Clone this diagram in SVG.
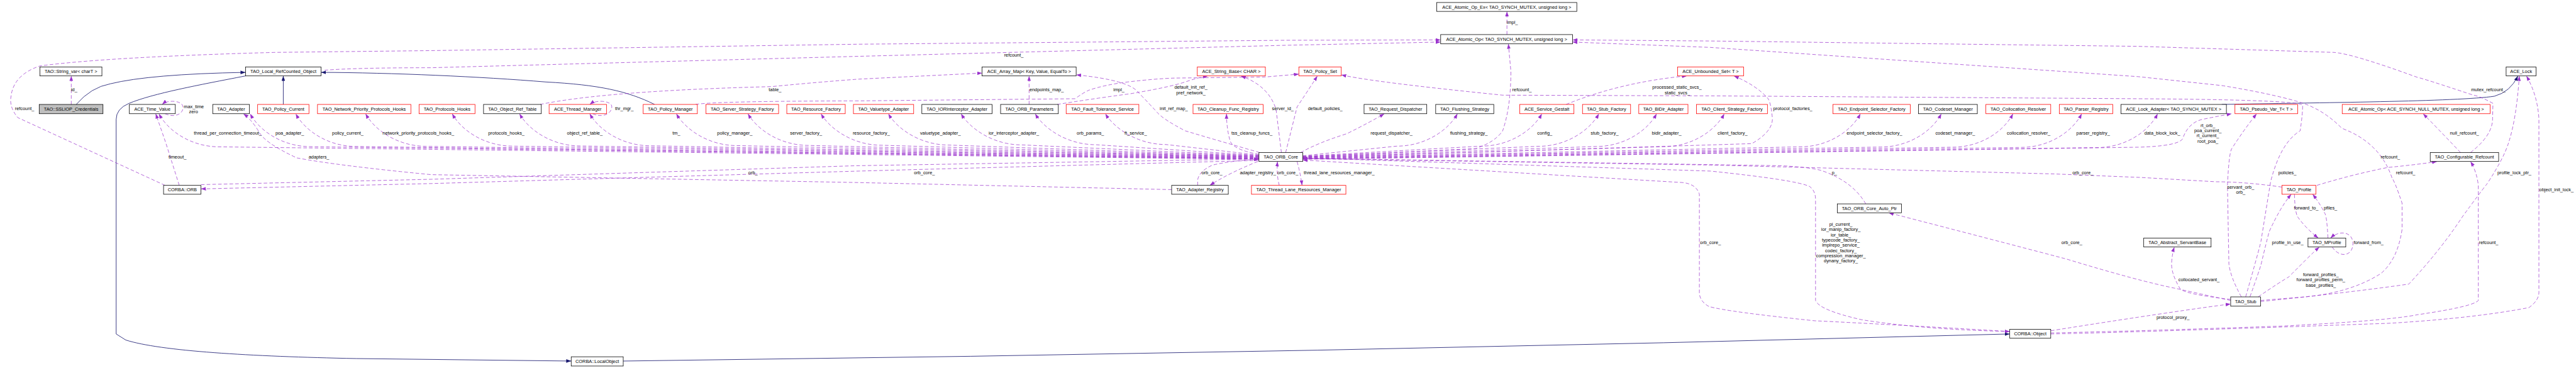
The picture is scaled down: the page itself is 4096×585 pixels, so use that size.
<svg xmlns="http://www.w3.org/2000/svg" width="4096" height="585" viewBox="0 0 4096 585">
<style>
.b{fill:#fff;stroke:#000;stroke-width:1.4}
.r{fill:#fff;stroke:#ff0000;stroke-width:1.4}
.g{fill:#bfbfbf;stroke:#000;stroke-width:1.4}
.t{font-family:"Liberation Sans",Arial,sans-serif;font-size:13px;text-anchor:middle;fill:#000}
.u{fill:none;stroke:#9a32cd;stroke-width:1.3;stroke-dasharray:10,6;marker-end:url(#ah)}
.i{fill:none;stroke:#191970;stroke-width:1.5;marker-end:url(#an)}
</style>
<defs>
<marker id="ah" viewBox="0 0 14 10" refX="14" refY="5" markerWidth="14" markerHeight="10" markerUnits="userSpaceOnUse" orient="auto"><path d="M0,0L14,5L0,10z" fill="#9a32cd"/></marker>
<marker id="an" viewBox="0 0 14 10" refX="14" refY="5" markerWidth="14" markerHeight="10" markerUnits="userSpaceOnUse" orient="auto"><path d="M0,0L14,5L0,10z" fill="#191970"/></marker>
</defs>
<rect width="4096" height="585" fill="#fff"/>
<g transform="scale(0.5666)">
<g id="connectors">
<path class="i" d="M214,293 Q255,245 310,235 Q420,208 689,203"/>
<path class="i" d="M689,213 C560,238 430,262 362,290 Q326,305 326,335 L326,937 L353,954 C450,985 700,1000 1000,1006 L1603,1013"/>
<path class="i" d="M795,293 L795,213"/>
<path class="i" d="M1837,293 C1760,255 1680,238 1532,230 C1350,215 1100,204 901,203"/>
<path class="i" d="M1749,1013 Q3700,990 5640,937"/>
<path class="i" d="M6235,293 C6500,288 6900,285 7000,270 Q7045,258 7066,213"/>
<path class="u" d="M200,293 L200,213"/>
<path class="u" d="M463,520 L50,330 Q25,300 31,270 Q38,210 112,185 Q300,160 772,147 L1210,142 L2410,124 L3610,113 L4043,112"/>
<path class="u" d="M911,197 Q1000,190 1210,190 L2410,158 L3610,127 L4043,118"/>
<path class="u" d="M463,319 C500,335 520,310 512,295 C505,282 470,280 455,293"/>
<path class="u" d="M503,520 L465,400 L437,319"/>
<path class="u" d="M3288,532 L2400,512 L1210,490 Q950,465 833,443 Q740,400 725,367 Q705,335 683,319"/>
<path class="u" d="M3533,450 L2410,480 L1210,515 L564,530"/>
<path class="u" d="M564,518 L1210,503 L2400,465 L3533,446"/>
<path class="u" d="M3533,447 L616,412 C536,412 471,367 446,319"/>
<path class="u" d="M3533,446 L872,411.5 C792,411.5 727,366 702,319"/>
<path class="u" d="M3533,445 L1000,411 C920,411 855,366 830,319"/>
<path class="u" d="M3533,444.5 L1196,410.5 C1116,410.5 1051,365 1026,319"/>
<path class="u" d="M3533,443.5 L1439,410 C1359,410 1294,365 1269,319"/>
<path class="u" d="M3533,442.5 L1628,409.5 C1548,409.5 1483,364 1458,319"/>
<path class="u" d="M3533,441.5 L1825,409 C1745,409 1680,364 1655,319"/>
<path class="u" d="M3533,440.5 L2068,408.5 C1988,408.5 1923,363 1898,319"/>
<path class="u" d="M3533,440 L2269,408 C2189,408 2124,363 2099,319"/>
<path class="u" d="M3533,439 L2474,407.5 C2394,407.5 2329,362 2304,319"/>
<path class="u" d="M3533,438 L2663,407 C2583,407 2518,362 2493,319"/>
<path class="u" d="M3533,437 L2867,406.5 C2787,406.5 2722,361 2697,319"/>
<path class="u" d="M3533,436 L3075,406 C2995,406 2930,361 2905,319"/>
<path class="u" d="M3533,435 L3272,405.5 C3192,405.5 3127,360 3102,319"/>
<path class="u" d="M3533,433 Q3460,420 3452,395 Q3442,360 3442,319"/>
<path class="u" d="M1663,319 C1700,335 1722,310 1716,295 C1708,282 1672,280 1655,293"/>
<path class="u" d="M1516,293 Q1700,255 2165,243 Q2300,230 2410,222 L2756,205"/>
<path class="u" d="M1952,293 Q2000,284 2410,283 L3017,277 Q3040,260 3056,253 Q3100,238 3164,230 Q3250,220 3300,219 L3550,216 L3645,208"/>
<path class="u" d="M2888,293 L2888,213"/>
<path class="u" d="M2967,293 Q3060,278 3172,263 Q3280,245 3326,230 Q3360,218 3390,213"/>
<path class="u" d="M3535,428 Q3420,395 3326,367 Q3265,335 3249,317 Q3215,280 3195,260 Q3170,225 3020,210"/>
<path class="u" d="M3596,428 L3581,307 Q3560,240 3482,213"/>
<path class="u" d="M3608,428 L3640,300 Q3680,240 3697,213"/>
<path class="u" d="M3650,428 Q3700,400 3780,375 Q3850,340 3885,319"/>
<path class="u" d="M3656,440 L4140,417 Q4194,400 4217,367 Q4240,300 4240,200 L4233,123"/>
<path class="u" d="M4229,97 L4229,32"/>
<path class="u" d="M3656,437 L3920,410 C4000,410 4065,365 4090,319"/>
<path class="u" d="M3656,438 L4157,410 C4237,410 4302,365 4327,319"/>
<path class="u" d="M3656,439 L4317,410.5 C4397,410.5 4462,365 4487,319"/>
<path class="u" d="M3656,440 L4479,411 C4559,411 4624,366 4649,319"/>
<path class="u" d="M3656,441 L4669,411.5 C4749,411.5 4814,366 4839,319"/>
<path class="u" d="M3656,442 L5051,412 C5131,412 5196,367 5221,319"/>
<path class="u" d="M3656,443 L5278,412.5 C5358,412.5 5423,367 5448,319"/>
<path class="u" d="M3656,444 L5479,413 C5559,413 5624,368 5649,319"/>
<path class="u" d="M3656,445 L5672,413.5 C5752,413.5 5817,368 5842,319"/>
<path class="u" d="M3656,446 L5885,414 C5965,414 6030,369 6055,319"/>
<path class="u" d="M4395,293 Q4550,230 4734,213"/>
<path class="u" d="M3656,442 L4916,403 Q4974,370 4974,333 Q4970,290 4962,277 Q4930,240 4866,213"/>
<path class="u" d="M3656,447 L6000,413 Q6110,410 6125,390 Q6140,345 6180,335 Q6230,325 6263,319"/>
<path class="u" d="M6290,833 Q6259,777 6255,740 L6251,520 Q6255,430 6263,417 Q6300,360 6333,319"/>
<path class="u" d="M6302,833 Q6340,700 6345,677 L6372,510 Q6400,400 6455,367 Q6462,320 6462,295 Q6450,280 6000,277 L4810,269 L4217,267 Q3850,230 3764,210"/>
<path class="u" d="M5236,572 Q5200,510 5116,480 Q5090,470 5000,465 L3656,444"/>
<path class="u" d="M6404,525 Q6300,510 6219,510 L6010,498 L5765,488 L4800,463 L3656,445"/>
<path class="u" d="M5640,930 Q5300,910 5093,900 Q4850,875 4796,860 Q4769,845 4769,820 L4769,545 Q4760,515 4719,512 L3656,449"/>
<path class="u" d="M3656,443 L4800,480 Q5040,505 5078,523 Q5095,535 5095,560 L5095,843 Q5105,870 5224,897 Q5400,925 5640,930"/>
<path class="u" d="M3530,453 Q3450,485 3395,520"/>
<path class="u" d="M3361,520 L3361,505 Q3365,480 3403,463 Q3460,450 3533,447"/>
<path class="u" d="M3640,453 Q3650,490 3654,520"/>
<path class="u" d="M3590,520 Q3582,490 3585,453"/>
<path class="u" d="M6260,843 Q6235,838 6110,810 Q6000,788 5800,727 Q5572,667 5300,597"/>
<path class="u" d="M5755,928 Q5900,905 6000,890 Q6200,860 6260,853"/>
<path class="u" d="M6260,840 Q6130,825 6118,810 Q6094,770 6094,740 Q6096,710 6102,693"/>
<path class="u" d="M6314,833 Q6340,760 6345,743 Q6360,680 6368,650 Q6400,580 6430,545"/>
<path class="u" d="M6337,833 Q6400,790 6423,777 Q6460,740 6470,730 Q6495,705 6509,693"/>
<path class="u" d="M6344,843 Q6440,835 6470,833 Q6600,820 6682,767 Q6729,727 6741,643 L6741,570 Q6721,510 6713,500 Q6680,400 6572,360 Q6520,307 6455,287 Q6376,263 6235,240 L6000,215 L4800,133 L4413,118"/>
<path class="u" d="M6344,846 Q6600,820 6760,797 Q6850,700 6909,610 Q6960,540 6980,515 Q7027,443 7040,400 Q7062,333 7070,213"/>
<path class="u" d="M5755,934 Q6000,929 6400,915 Q6700,900 6784,883 Q6941,860 6955,843 L6955,520 Q6950,480 6933,453"/>
<path class="u" d="M5755,937 Q6000,932 6705,907 Q6941,893 7097,863 Q7125,843 7125,820 L7125,333 Q7121,267 7090,213"/>
<path class="u" d="M6439,545 Q6440,590 6447,607 Q6470,640 6506,668"/>
<path class="u" d="M6533,668 Q6530,610 6525,600 Q6510,570 6490,545"/>
<path class="u" d="M6545,693 C6565,725 6605,720 6603,680 C6600,650 6565,645 6540,668"/>
<path class="u" d="M6502,520 Q6600,490 6700,470 Q6800,460 6839,453"/>
<path class="u" d="M6933,428 Q6995,380 6995,333 L6996,290 Q6960,270 6941,267 Q6800,220 6784,217 Q6600,150 6549,147 L6000,130 L4800,115 L4413,112"/>
<path class="u" d="M6905,428 Q6860,380 6800,319"/>
<g class="t">
<text x="208" y="256">id_</text>
<text x="69" y="309">refcount_</text>
<text x="544" y="303">max_time</text>
<text x="543" y="317">zero</text>
<text x="498" y="444">timeout_</text>
<text x="639" y="377">thread_per_connection_timeout_</text>
<text x="813" y="377">poa_adapter_</text>
<text x="895" y="444">adapters_</text>
<text x="976" y="377">policy_current_</text>
<text x="1174" y="377">network_priority_protocols_hooks_</text>
<text x="1421" y="377">protocols_hooks_</text>
<text x="1641" y="377">object_ref_table_</text>
<text x="1752" y="309">thr_mgr_</text>
<text x="1898" y="377">tm_</text>
<text x="2062" y="377">policy_manager_</text>
<text x="2262" y="377">server_factory_</text>
<text x="2175" y="256">table_</text>
<text x="2113" y="489">orb_</text>
<text x="2445" y="377">resource_factory_</text>
<text x="2639" y="377">valuetype_adapter_</text>
<text x="2845" y="377">ior_interceptor_adapter_</text>
<text x="3060" y="377">orb_params_</text>
<text x="3187" y="377">ft_service_</text>
<text x="3513" y="377">tss_cleanup_funcs_</text>
<text x="2845" y="158">refcount_</text>
<text x="2937" y="256">endpoints_map_</text>
<text x="3140" y="256">impl_</text>
<text x="3342" y="249">default_init_ref_</text>
<text x="3342" y="264">pref_network_</text>
<text x="3294" y="309">init_ref_map_</text>
<text x="3600" y="309">server_id_</text>
<text x="2594" y="489">orb_core_</text>
<text x="3401" y="489">orb_core_</text>
<text x="3530" y="489">adapter_registry_</text>
<text x="3614" y="489">orb_core_</text>
<text x="3758" y="489">thread_lane_resources_manager_</text>
<text x="4244" y="67">impl_</text>
<text x="3719" y="309">default_policies_</text>
<text x="4271" y="256">refcount_</text>
<text x="4706" y="249">processed_static_svcs_</text>
<text x="4707" y="264">static_svcs_</text>
<text x="3905" y="377">request_dispatcher_</text>
<text x="4122" y="377">flushing_strategy_</text>
<text x="4335" y="377">config_</text>
<text x="4503" y="377">stub_factory_</text>
<text x="4677" y="377">bidir_adapter_</text>
<text x="4862" y="377">client_factory_</text>
<text x="5031" y="309">protocol_factories_</text>
<text x="5260" y="377">endpoint_selector_factory_</text>
<text x="5487" y="377">codeset_manager_</text>
<text x="5693" y="377">collocation_resolver_</text>
<text x="5874" y="377">parser_registry_</text>
<text x="5148" y="489">p_</text>
<text x="5845" y="489">orb_core_</text>
<text x="6983" y="256">mutex_refcount_</text>
<text x="6068" y="377">data_block_lock_</text>
<text x="6196" y="356">rt_orb_</text>
<text x="6196" y="371">poa_current_</text>
<text x="6196" y="385">rt_current_</text>
<text x="6196" y="400">root_poa_</text>
<text x="6916" y="377">null_refcount_</text>
<text x="6708" y="444">refcount_</text>
<text x="6419" y="489">policies_</text>
<text x="6751" y="489">refcount_</text>
<text x="7056" y="489">profile_lock_ptr_</text>
<text x="4800" y="684">orb_core_</text>
<text x="5166" y="633">pi_current_</text>
<text x="5166" y="648">ior_manip_factory_</text>
<text x="5166" y="663">ior_table_</text>
<text x="5166" y="677">typecode_factory_</text>
<text x="5166" y="692">implrepo_service_</text>
<text x="5166" y="707">codec_factory_</text>
<text x="5166" y="721">compression_manager_</text>
<text x="5166" y="736">dynany_factory_</text>
<text x="5814" y="684">orb_core_</text>
<text x="6288" y="529">servant_orb_</text>
<text x="6288" y="544">orb_</text>
<text x="6472" y="587">forward_to_</text>
<text x="6540" y="587">pfiles_</text>
<text x="6420" y="684">profile_in_use_</text>
<text x="6647" y="684">forward_from_</text>
<text x="6984" y="684">refcount_</text>
<text x="7174" y="536">object_init_lock_</text>
<text x="6171" y="789">collocated_servant_</text>
<text x="6513" y="775">forward_profiles_</text>
<text x="6513" y="789">forward_profiles_perm_</text>
<text x="6513" y="804">base_profiles_</text>
<text x="6098" y="895">protocol_proxy_</text>
</g>
</g>
<g id="n_atomic_op_ex"><rect class="b" x="4032" y="7" width="393" height="25"/><text class="t" x="4228.5" y="24">ACE_Atomic_Op_Ex&lt; TAO_SYNCH_MUTEX, unsigned long &gt;</text></g>
<g id="n_atomic_op"><rect class="b" x="4043" y="97" width="370" height="26"/><text class="t" x="4228" y="114.5">ACE_Atomic_Op&lt; TAO_SYNCH_MUTEX, unsigned long &gt;</text></g>
<g id="n_string_var"><rect class="b" x="112" y="188" width="174" height="25"/><text class="t" x="199" y="205">TAO::String_var&lt; charT &gt;</text></g>
<g id="n_local_refcounted"><rect class="b" x="689" y="188" width="212" height="25"/><text class="t" x="795" y="205">TAO_Local_RefCounted_Object</text></g>
<g id="n_array_map"><rect class="b" x="2756" y="188" width="264" height="25"/><text class="t" x="2888" y="205">ACE_Array_Map&lt; Key, Value, EqualTo &gt;</text></g>
<g id="n_string_base"><rect class="r" x="3360" y="188" width="191" height="25"/><text class="t" x="3455.5" y="205">ACE_String_Base&lt; CHAR &gt;</text></g>
<g id="n_policy_set"><rect class="r" x="3645" y="188" width="119" height="25"/><text class="t" x="3704.5" y="205">TAO_Policy_Set</text></g>
<g id="n_unbounded_set"><rect class="r" x="4708" y="188" width="185" height="25"/><text class="t" x="4800.5" y="205">ACE_Unbounded_Set&lt; T &gt;</text></g>
<g id="n_ace_lock"><rect class="b" x="7033" y="188" width="84" height="25"/><text class="t" x="7075" y="205">ACE_Lock</text></g>
<g id="n_ssliop"><rect class="g" x="110" y="293" width="179" height="26"/><text class="t" x="199.5" y="310.5">TAO::SSLIOP_Credentials</text></g>
<g id="n_time_value"><rect class="b" x="363" y="293" width="129" height="26"/><text class="t" x="427.5" y="310.5">ACE_Time_Value</text></g>
<g id="n_adapter"><rect class="b" x="597" y="293" width="103" height="26"/><text class="t" x="648.5" y="310.5">TAO_Adapter</text></g>
<g id="n_policy_current"><rect class="r" x="723" y="293" width="144" height="26"/><text class="t" x="795" y="310.5">TAO_Policy_Current</text></g>
<g id="n_netprio"><rect class="r" x="891" y="293" width="262" height="26"/><text class="t" x="1022" y="310.5">TAO_Network_Priority_Protocols_Hooks</text></g>
<g id="n_proto_hooks"><rect class="r" x="1176" y="293" width="157" height="26"/><text class="t" x="1254.5" y="310.5">TAO_Protocols_Hooks</text></g>
<g id="n_obj_ref_table"><rect class="b" x="1357" y="293" width="162" height="26"/><text class="t" x="1438" y="310.5">TAO_Object_Ref_Table</text></g>
<g id="n_thread_mgr"><rect class="r" x="1541" y="293" width="161" height="26"/><text class="t" x="1621.5" y="310.5">ACE_Thread_Manager</text></g>
<g id="n_policy_mgr"><rect class="r" x="1805" y="293" width="152" height="26"/><text class="t" x="1881" y="310.5">TAO_Policy_Manager</text></g>
<g id="n_server_factory"><rect class="r" x="1981" y="293" width="204" height="26"/><text class="t" x="2083" y="310.5">TAO_Server_Strategy_Factory</text></g>
<g id="n_resource_factory"><rect class="r" x="2208" y="293" width="164" height="26"/><text class="t" x="2290" y="310.5">TAO_Resource_Factory</text></g>
<g id="n_valuetype"><rect class="r" x="2395" y="293" width="169" height="26"/><text class="t" x="2479.5" y="310.5">TAO_Valuetype_Adapter</text></g>
<g id="n_iorinterceptor"><rect class="b" x="2587" y="293" width="197" height="26"/><text class="t" x="2685.5" y="310.5">TAO_IORInterceptor_Adapter</text></g>
<g id="n_orb_params"><rect class="b" x="2808" y="293" width="162" height="26"/><text class="t" x="2889" y="310.5">TAO_ORB_Parameters</text></g>
<g id="n_ft"><rect class="r" x="2992" y="293" width="204" height="26"/><text class="t" x="3094" y="310.5">TAO_Fault_Tolerance_Service</text></g>
<g id="n_cleanup"><rect class="r" x="3348" y="293" width="197" height="26"/><text class="t" x="3446.5" y="310.5">TAO_Cleanup_Func_Registry</text></g>
<g id="n_req_dispatcher"><rect class="b" x="3828" y="293" width="176" height="26"/><text class="t" x="3916" y="310.5">TAO_Request_Dispatcher</text></g>
<g id="n_flushing"><rect class="b" x="4029" y="293" width="163" height="26"/><text class="t" x="4110.5" y="310.5">TAO_Flushing_Strategy</text></g>
<g id="n_service_gestalt"><rect class="r" x="4265" y="293" width="152" height="26"/><text class="t" x="4341" y="310.5">ACE_Service_Gestalt</text></g>
<g id="n_stub_factory"><rect class="r" x="4441" y="293" width="135" height="26"/><text class="t" x="4508.5" y="310.5">TAO_Stub_Factory</text></g>
<g id="n_bidir"><rect class="r" x="4599" y="293" width="138" height="26"/><text class="t" x="4668" y="310.5">TAO_BiDir_Adapter</text></g>
<g id="n_client_factory"><rect class="r" x="4761" y="293" width="199" height="26"/><text class="t" x="4860.5" y="310.5">TAO_Client_Strategy_Factory</text></g>
<g id="n_endpoint_sel"><rect class="r" x="5144" y="293" width="217" height="26"/><text class="t" x="5252.5" y="310.5">TAO_Endpoint_Selector_Factory</text></g>
<g id="n_codeset"><rect class="b" x="5384" y="293" width="165" height="26"/><text class="t" x="5466.5" y="310.5">TAO_Codeset_Manager</text></g>
<g id="n_collocation"><rect class="r" x="5573" y="293" width="182" height="26"/><text class="t" x="5664" y="310.5">TAO_Collocation_Resolver</text></g>
<g id="n_parser"><rect class="r" x="5779" y="293" width="150" height="26"/><text class="t" x="5854" y="310.5">TAO_Parser_Registry</text></g>
<g id="n_lock_adapter"><rect class="b" x="5952" y="293" width="296" height="26"/><text class="t" x="6100" y="310.5">ACE_Lock_Adapter&lt; TAO_SYNCH_MUTEX &gt;</text></g>
<g id="n_pseudo_var"><rect class="r" x="6272" y="293" width="176" height="26"/><text class="t" x="6360" y="310.5">TAO_Pseudo_Var_T&lt; T &gt;</text></g>
<g id="n_atomic_null"><rect class="r" x="6573" y="293" width="415" height="26"/><text class="t" x="6780.5" y="310.5">ACE_Atomic_Op&lt; ACE_SYNCH_NULL_MUTEX, unsigned long &gt;</text></g>
<g id="n_orb_core"><rect class="b" x="3533" y="428" width="123" height="25"/><text class="t" x="3594.5" y="445">TAO_ORB_Core</text></g>
<g id="n_conf_refcount"><rect class="b" x="6820" y="428" width="192" height="25"/><text class="t" x="6916" y="445">TAO_Configurable_Refcount</text></g>
<g id="n_corba_orb"><rect class="b" x="459" y="520" width="105" height="25"/><text class="t" x="511.5" y="537">CORBA::ORB</text></g>
<g id="n_adapter_registry"><rect class="b" x="3288" y="520" width="159" height="25"/><text class="t" x="3367.5" y="537">TAO_Adapter_Registry</text></g>
<g id="n_thread_lane"><rect class="r" x="3512" y="520" width="265" height="25"/><text class="t" x="3644.5" y="537">TAO_Thread_Lane_Resources_Manager</text></g>
<g id="n_profile"><rect class="r" x="6404" y="520" width="95" height="25"/><text class="t" x="6451.5" y="537">TAO_Profile</text></g>
<g id="n_auto_ptr"><rect class="b" x="5156" y="572" width="180" height="25"/><text class="t" x="5246" y="589">TAO_ORB_Core_Auto_Ptr</text></g>
<g id="n_servant_base"><rect class="b" x="6016" y="668" width="189" height="25"/><text class="t" x="6110.5" y="685">TAO_Abstract_ServantBase</text></g>
<g id="n_mprofile"><rect class="b" x="6477" y="668" width="106" height="25"/><text class="t" x="6530" y="685">TAO_MProfile</text></g>
<g id="n_stub"><rect class="b" x="6260" y="833" width="84" height="26"/><text class="t" x="6302" y="850.5">TAO_Stub</text></g>
<g id="n_corba_object"><rect class="b" x="5640" y="924" width="115" height="25"/><text class="t" x="5697.5" y="941">CORBA::Object</text></g>
<g id="n_local_object"><rect class="b" x="1603" y="1001" width="146" height="26"/><text class="t" x="1676" y="1018.5">CORBA::LocalObject</text></g>
</g>
</svg>
